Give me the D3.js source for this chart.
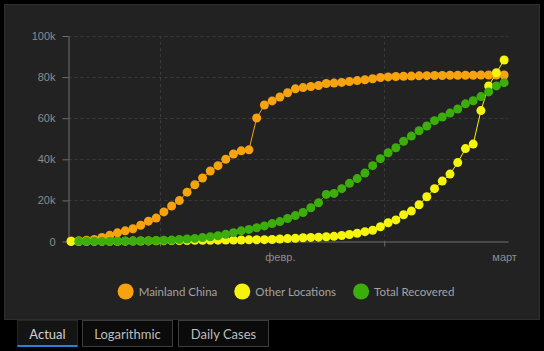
<!DOCTYPE html>
<html>
<head>
<meta charset="utf-8">
<script src="https://cdn.jsdelivr.net/npm/d3@7"></script>
<style>
  html, body { margin: 0; padding: 0; background: #000; }
  svg { display: block; font-family: Lato, "Noto Sans", sans-serif; }
</style>
</head>
<body>
<svg id="chart" width="544" height="351"></svg>
<script>
// one point per day, starting Jan 20 2020 (points sit at noon)
const firstDay = Date.UTC(2020, 0, 20, 12);

const mainlandChina = [300, 400, 600, 1000, 2000, 3000, 4200, 5200, 6200, 7900,
  9900, 11400, 14400, 17300, 19900, 24000, 27600, 30900, 34300, 36900,
  40000, 42600, 44100, 44600, 60100, 66400, 68400, 70300, 72400, 74300,
  74900, 75400, 75900, 76900, 77100, 77400, 77800, 78300, 78700, 79200,
  79800, 80100, 80300, 80400, 80500, 80600, 80700, 80800, 80800, 80900,
  80900, 80900, 80900, 81000, 81000, 81000, 81000];

const otherLocations = [10, 20, 30, 50, 70, 100, 120, 150, 200, 250,
  300, 350, 400, 450, 500, 500, 550, 600, 600, 650,
  700, 700, 750, 800, 850, 900, 1000, 1200, 1400, 1600,
  1800, 2000, 2100, 2300, 2500, 2900, 3400, 4000, 4800, 5500,
  7200, 9100, 10500, 13000, 14800, 17900, 21800, 25700, 29400, 32800,
  38400, 45200, 47400, 63700, 75700, 82100, 88300];

const totalRecovered = [null, 100, 100, 100, 100, 120, 150, 200, 250, 300,
  350, 450, 550, 700, 1000, 1200, 1500, 1900, 2300, 2800,
  3500, 4300, 5200, 5900, 6700, 7600, 8700, 9700, 11200, 12600,
  14100, 16400, 18800, 22900, 23400, 25700, 28300, 30600, 33300, 36900,
  40300, 43200, 45600, 48800, 51300, 53900, 56200, 58800, 60600, 62500,
  64500, 67000, 68500, 70500, 72800, 75700, 77300];

const seriesNames = ["Mainland China", "Other Locations", "Total Recovered"];
const seriesColors = ["#f7a20f", "#f5f50c", "#3cae0c"];

const yTicks = [0, 20000, 40000, 60000, 80000, 100000];
const monthTicks = [Date.UTC(2020, 1, 1), Date.UTC(2020, 2, 1)];
const monthLabels = ["февр.", "март"];
const tabLabels = ["Actual", "Logarithmic", "Daily Cases"];

const DAY = 864e5;
const svg = d3.select("#chart");

// dark panel
svg.append("rect")
  .attr("x", 4.5).attr("y", 4.5)
  .attr("width", 535).attr("height", 315)
  .attr("fill", "#222").attr("stroke", "#2e2e2e");

const x = d3.scaleUtc()
  .domain([Date.UTC(2020, 0, 20, 4), Date.UTC(2020, 2, 17)])
  .range([68.5, 508]);
const y = d3.scaleLinear().domain([0, 100000]).range([241.5, 36]);

// grid
const grid = svg.append("g").attr("stroke", "#3a3a3a").attr("stroke-dasharray", "3,3");
grid.selectAll(".hg").data(yTicks.slice(1)).join("line")
  .attr("x1", 68.5).attr("x2", 508)
  .attr("y1", d => Math.round(y(d)) + 0.5).attr("y2", d => Math.round(y(d)) + 0.5);
grid.selectAll(".vg").data(monthTicks).join("line")
  .attr("x1", d => Math.round(x(d)) + 0.5).attr("x2", d => Math.round(x(d)) + 0.5)
  .attr("y1", 36).attr("y2", 241.5);

// axes
const yAxis = svg.append("g")
  .attr("transform", "translate(68.5,0)")
  .call(d3.axisLeft(y).tickValues(yTicks).tickSize(6).tickSizeOuter(0).tickPadding(7)
    .tickFormat(d => d === 0 ? "0" : d / 1000 + "k"));

const xAxis = svg.append("g")
  .attr("transform", "translate(0,241.5)")
  .call(d3.axisBottom(x).tickValues(monthTicks).tickSize(5).tickSizeOuter(0).tickPadding(7)
    .tickFormat((d, i) => monthLabels[i]));
// month labels sit in the middle of the month cell
xAxis.selectAll(".tick text").attr("x", d => x(d + 15.5 * DAY) - x(d));

[yAxis, xAxis].forEach(a => {
  a.select(".domain").attr("stroke", "#6e6e6e");
  a.selectAll(".tick line").attr("stroke", "#6e6e6e");
  a.selectAll(".tick text").attr("fill", "#8c8c8c").style("font-size", "11px");
});

// series
const allSeries = [mainlandChina, otherLocations, totalRecovered].map((vals, i) => ({
  name: seriesNames[i],
  color: seriesColors[i],
  points: vals.map((v, j) => ({ t: firstDay + j * DAY, v: v }))
}));

const line = d3.line()
  .defined(d => d.v != null)
  .x(d => x(d.t)).y(d => y(d.v));

allSeries.forEach(s => {
  const g = svg.append("g");
  g.append("path")
    .attr("d", line(s.points))
    .attr("fill", "none")
    .attr("stroke", s.color)
    .attr("stroke-width", 1);
  g.selectAll("circle").data(s.points.filter(d => d.v != null)).join("circle")
    .attr("cx", d => x(d.t)).attr("cy", d => y(d.v))
    .attr("r", 4.5)
    .attr("fill", s.color);
});

// legend
const legend = svg.append("g");
let lx = 0;
allSeries.forEach(s => {
  const item = legend.append("g").attr("transform", `translate(${lx},0)`);
  item.append("circle").attr("cx", 8).attr("cy", 0).attr("r", 8).attr("fill", s.color);
  const t = item.append("text")
    .attr("x", 21).attr("y", 4)
    .attr("fill", "#a3a3a3")
    .style("font-size", "11.5px")
    .text(s.name);
  lx += 21 + t.node().getComputedTextLength() + 17;
});
const legendW = lx - 17;
legend.attr("transform", `translate(${286 - legendW / 2},291.5)`);

// tabs below the panel
const tabX = [17, 82, 178];
const tabW = [60, 90, 90];
tabLabels.forEach((label, i) => {
  const g = svg.append("g").attr("transform", `translate(${tabX[i] + 0.5},320.5)`);
  g.append("rect")
    .attr("width", tabW[i]).attr("height", 26)
    .attr("fill", i === 0 ? "#141414" : "#0b0b0b")
    .attr("stroke", i === 0 ? "#262626" : "#3c3c3c");
  g.append("text")
    .attr("x", tabW[i] / 2).attr("y", 18)
    .attr("text-anchor", "middle")
    .attr("fill", i === 0 ? "#d0d0d0" : "#bdbdbd")
    .style("font-size", "13px")
    .text(label);
  if (i === 0) {
    g.append("rect").attr("x", 0).attr("y", 24.5).attr("width", tabW[i]).attr("height", 2)
      .attr("fill", "#2a7fd9");
  }
});
</script>
</body>
</html>
